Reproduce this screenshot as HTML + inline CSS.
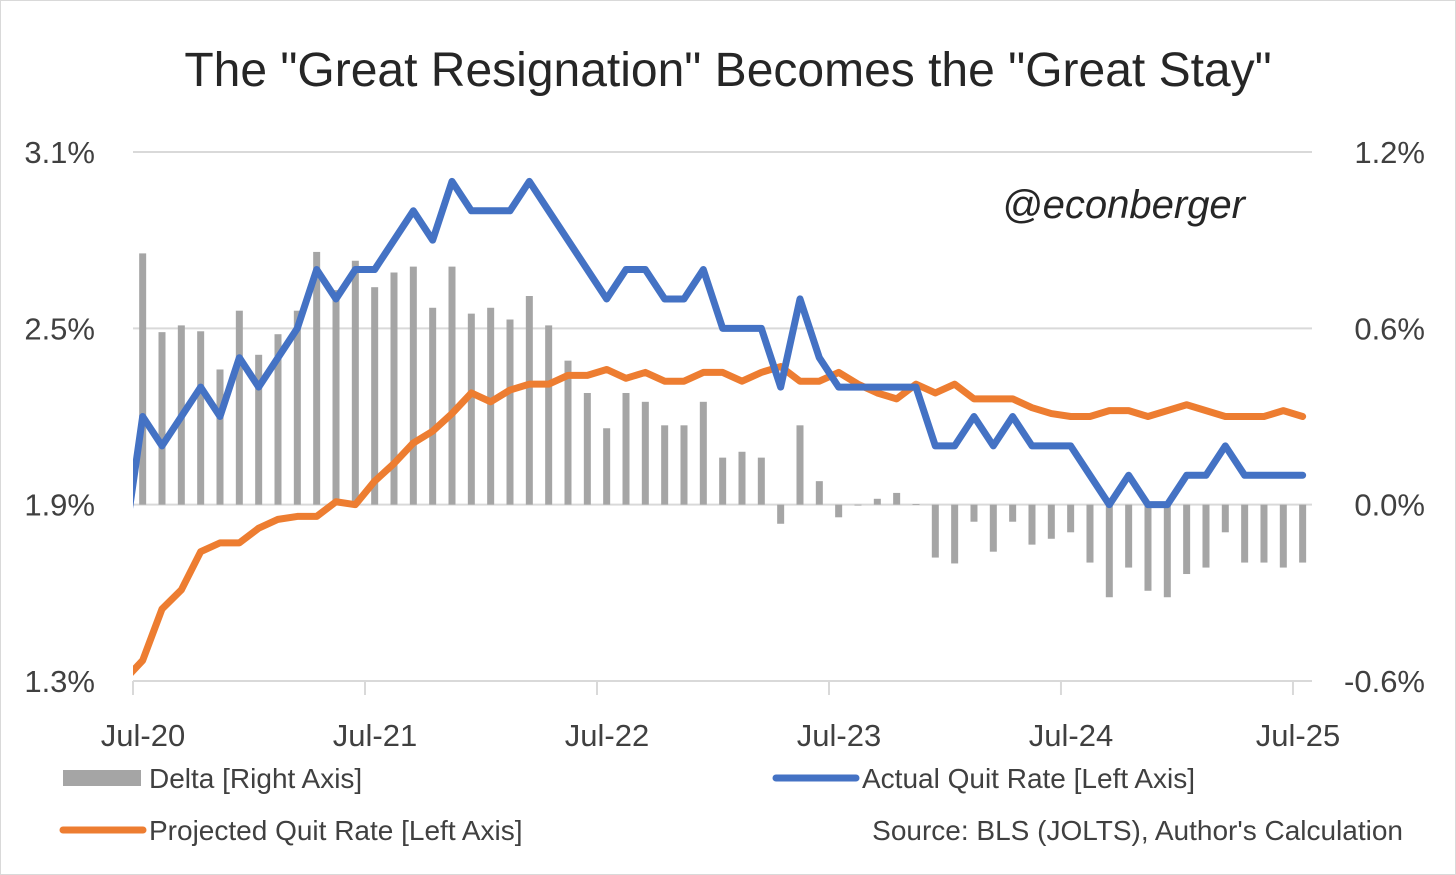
<!DOCTYPE html>
<html><head><meta charset="utf-8"><style>
html,body{margin:0;padding:0;background:#fff;}
svg{display:block;font-family:"Liberation Sans","DejaVu Sans",sans-serif;}
</style></head><body>
<svg id="chart" width="1456" height="875" viewBox="0 0 1456 875">
<rect x="0.5" y="0.5" width="1455" height="874" fill="#fff" stroke="#d9d9d9"/>
<text x="728" y="86" text-anchor="middle" font-size="48" fill="#262626">The "Great Resignation" Becomes the "Great Stay"</text>
<text x="1245" y="218" text-anchor="end" font-size="40" font-style="italic" fill="#262626">@econberger</text>
<g id="grid"></g><g id="bars"></g><g id="lines"></g><g id="axes"></g>
<g>
<rect x="63" y="770" width="78" height="16" fill="#a5a5a5"/>
<text x="149" y="788" font-size="28" fill="#404040">Delta [Right Axis]</text>
<line x1="776" y1="778" x2="856" y2="778" stroke="#4472c4" stroke-width="7" stroke-linecap="round"/>
<text x="862" y="788" font-size="28" fill="#404040">Actual Quit Rate [Left Axis]</text>
<line x1="63" y1="830" x2="143" y2="830" stroke="#ed7d31" stroke-width="7" stroke-linecap="round"/>
<text x="149" y="840" font-size="28" fill="#404040">Projected Quit Rate [Left Axis]</text>
<text x="1403" y="840" text-anchor="end" font-size="28" fill="#404040">Source: BLS (JOLTS), Author's Calculation</text>
</g>
</svg>
<script>
// Months: index 0 = Jun-20 (clipped), index 1.. = Jul-20 .. Jul-25
const actual = [1.74,2.2,2.1,2.2,2.3,2.2,2.4,2.3,2.4,2.5,2.7,2.6,2.7,2.7,2.8,2.9,2.8,3.0,2.9,2.9,2.9,3.0,2.9,2.8,2.7,2.6,2.7,2.7,2.6,2.6,2.7,2.5,2.5,2.5,2.3,2.6,2.4,2.3,2.3,2.3,2.3,2.3,2.1,2.1,2.2,2.1,2.2,2.1,2.1,2.1,2.0,1.9,2.0,1.9,1.9,2.0,2.0,2.1,2.0,2.0,2.0,2.0];
const projected = [1.3,1.37,1.545,1.61,1.74,1.77,1.77,1.82,1.85,1.86,1.86,1.91,1.90,1.98,2.04,2.11,2.15,2.21,2.28,2.25,2.29,2.31,2.31,2.34,2.34,2.36,2.33,2.35,2.32,2.32,2.35,2.35,2.32,2.35,2.37,2.32,2.32,2.35,2.31,2.28,2.26,2.31,2.28,2.31,2.26,2.26,2.26,2.23,2.21,2.20,2.20,2.22,2.22,2.20,2.22,2.24,2.22,2.20,2.20,2.20,2.22,2.20];
const delta = [null,0.855,0.587,0.61,0.59,0.46,0.66,0.51,0.58,0.66,0.86,0.73,0.83,0.74,0.79,0.81,0.67,0.81,0.65,0.67,0.63,0.71,0.61,0.49,0.38,0.26,0.38,0.35,0.27,0.27,0.35,0.16,0.18,0.16,-0.065,0.27,0.08,-0.043,-0.003,0.02,0.04,0.002,-0.18,-0.20,-0.058,-0.16,-0.058,-0.136,-0.116,-0.094,-0.197,-0.315,-0.214,-0.293,-0.315,-0.236,-0.214,-0.094,-0.197,-0.197,-0.214,-0.197];
const xTickLabels = ["Jul-20","Jul-21","Jul-22","Jul-23","Jul-24","Jul-25"];
const leftTicks = [1.3,1.9,2.5,3.1];
const rightTicks = [-0.6,0.0,0.6,1.2];

const NS="http://www.w3.org/2000/svg";
const X0=133, BW=19.333, YT=152, YB=681;
const x=i=>X0+(i-0.5)*BW;
const yL=v=>YT+(3.1-v)/1.8*(YB-YT);
const yR=v=>YT+(1.2-v)/1.8*(YB-YT);
function mk(t,a,p){const e=document.createElementNS(NS,t);for(const k in a)e.setAttribute(k,a[k]);p.appendChild(e);return e;}
const grid=document.getElementById('grid'),bars=document.getElementById('bars'),lines=document.getElementById('lines'),axes=document.getElementById('axes');
const svg=document.getElementById('chart');
const defs=mk('defs',{},svg);const cp=mk('clipPath',{id:'plotclip'},defs);mk('rect',{x:X0,y:0,width:1200,height:875},cp);

leftTicks.forEach((v,k)=>{
  const g=mk('line',{x1:X0,x2:1312,y1:yL(v),y2:yL(v),stroke:'#d9d9d9','stroke-width':2},grid);
  
  
  const t=mk('text',{x:95,y:yL(v)+11,'text-anchor':'end','font-size':31,fill:'#404040'},axes);
  t.textContent=v.toFixed(1)+'%';
  
  
});
rightTicks.forEach(v=>{
  const t=mk('text',{x:1425,y:yR(v)+11,'text-anchor':'end','font-size':31,fill:'#404040'},axes);
  t.textContent=v.toFixed(1)+'%';
  
  
});
xTickLabels.forEach((s,k)=>{
  const xi=X0+k*12*BW;
  const tk=mk('line',{x1:xi,x2:xi,y1:YB,y2:YB+14,stroke:'#d9d9d9','stroke-width':2},axes);
  
  
  const t=mk('text',{x:xi+(k===5?5:10),y:746,'text-anchor':'middle','font-size':31,fill:'#404040'},axes);
  t.textContent=s;
  
  
});
delta.forEach((v,i)=>{
  if(v===null)return;
  const y0=yR(0),y1=yR(v);
  const r=mk('rect',{x:x(i)-3.5,width:7,y:Math.min(y0,y1),height:Math.max(0.8,Math.abs(y1-y0)),fill:'#a5a5a5'},bars);
  
  
});
function line(arr,col,name){
  const p=mk('polyline',{points:arr.map((v,i)=>x(i)+','+yL(v)).join(' '),fill:'none',stroke:col,'stroke-width':7,'stroke-linejoin':'round','stroke-linecap':'round','clip-path':'url(#plotclip)'},lines);
  
  
}
line(projected,'#ed7d31','projected-quit-rate-line');
line(actual,'#4472c4','actual-quit-rate-line');
</script>
</body></html>
